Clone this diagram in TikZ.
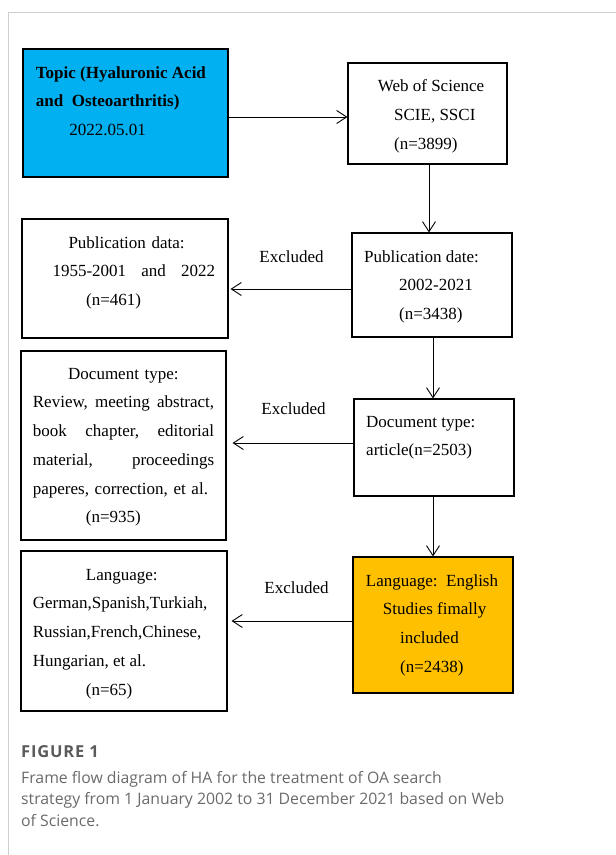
\documentclass[tikz,border=0pt]{standalone}
\usepackage{fontspec}
\setmainfont{Liberation Serif}
\newfontfamily\capfont{Open Sans}
\usetikzlibrary{arrows.meta}

\definecolor{topicblue}{HTML}{00B0F0}
\definecolor{langorange}{HTML}{FFC000}
\definecolor{framegray}{HTML}{CFCFCF}
\definecolor{capgray}{HTML}{6A6A6A}

\tikzset{
  box/.style = {draw, line width=1.1pt, inner sep=0pt},
  txt/.style = {align=left, inner sep=0pt, anchor=north west,
                font=\fontsize{17}{28.75}\selectfont},
  arr/.style = {-{Straight Barb[length=10pt, width=13pt]}, line width=0.9pt},
}
\newcommand{\fl}{\rule{0pt}{12pt}}

\begin{document}
\begin{tikzpicture}[x=1pt, y=-1pt]
					\useasboundingbox (0,0) rectangle (616,855);

					% page frame
					\draw[framegray, line width=1pt] (8,855) -- (8,12) -- (616,12);

					% boxes
					\begin{scope}
						\node[box, fill=topicblue, minimum width=205, minimum height=128] (topic) at (125.5,113) {};
						\node[box, minimum width=159, minimum height=101] (wos) at (427.5,113.5) {};
						\node[box, minimum width=206, minimum height=119] (pubdata) at (125,278.5) {};
						\node[box, minimum width=160, minimum height=104] (pubdate) at (432,285) {};
						\node[box, minimum width=205, minimum height=189] (doctypeL) at (123.5,445.5) {};
						\node[box, minimum width=160, minimum height=97] (doctypeR) at (434,447.5) {};
						\node[box, minimum width=206, minimum height=160] (langL) at (124,631) {};
						\node[box, fill=langorange, minimum width=160, minimum height=136] (langR) at (433,625) {};
					\end{scope}

					% box texts
					\begin{scope}
						\node[txt] (topictxt) at (35.7,66) {\fl\textbf{Topic (Hyaluronic Acid}\\
							\textbf{and\ \ Osteoarthritis)}\\ \hspace*{33.6pt}2022.05.01};
						\node[txt] (wostxt) at (377.7,79.7) {\fl Web of Science\\
							\hspace*{16.3pt}SCIE, SSCI\\ \hspace*{16.3pt}(n=3899)};
						\node[txt, text width=162.7pt] (pubdatatxt) at (52.3,236) {\fl\hspace*{16pt}Publication data:\\
							1955-2001\hfill and\hfill 2022\\ \hspace*{33.7pt}(n=461)};
						\node[txt] (pubdatetxt) at (364,250) {\fl Publication date:\\
							\hspace*{35pt}2002-2021\\ \hspace*{35pt}(n=3438)};
						\node[txt, text width=181.3pt] (doctypeLtxt) at (32.7,367) {\fl\hspace*{35.3pt}Document type:\\
							Review,\hfill meeting\hfill abstract,\\
							book\hfill chapter,\hfill editorial\\
							material,\hfill proceedings\\
							paperes, correction, et al.\\
							\hspace*{53pt}(n=935)};
						\node[txt] (doctypeRtxt) at (366,415) {\fl Document type:\\ article(n=2503)};
						\node[txt] (langLtxt) at (32.7,568) {\fl\hspace*{53pt}Language:\\
							German,Spanish,Turkiah,\\ Russian,French,Chinese,\\
							Hungarian, et al.\\ \hspace*{53pt}(n=65)};
						\node[txt] (langRtxt) at (365.7,574) {\fl Language:\ \ English\\
							\hspace*{17pt}Studies fimally\\ \hspace*{34.3pt}included\\
							\hspace*{34.3pt}(n=2438)};
					\end{scope}

					% connectors
					\begin{scope}[arr]
						\draw (topic.east |- 0,117) -- (wos.west |- 0,117);
						\draw (wos.south -| 429,0) -- (pubdate.north -| 429,0);
						\draw (pubdate.west |- 0,289) -- ([xshift=2pt]pubdata.east |- 0,289)
							node[txt, anchor=base west, midway, xshift=-32pt, yshift=27pt] (excl1) {Excluded};
						\draw (pubdate.south -| 433,0) -- (doctypeR.north -| 433,0);
						\draw (doctypeR.west |- 0,443) -- ([xshift=6pt]doctypeL.east |- 0,443)
							node[txt, anchor=base west, midway, xshift=-32pt, yshift=29pt] (excl2) {Excluded};
						\draw (doctypeR.south -| 433,0) -- (langR.north -| 433,0);
						\draw (langR.west |- 0,621) -- ([xshift=4pt]langL.east |- 0,621)
							node[txt, anchor=base west, midway, xshift=-28pt, yshift=28pt] (excl3) {Excluded};
					\end{scope}

					% caption
					\node[anchor=base west, inner sep=0pt, text=capgray!85!black,
						font=\capfont\bfseries\fontsize{16.5}{20}\selectfont\addfontfeatures{LetterSpace=5}] (figlabel) at (21,757) {FIGURE 1};
					\node[anchor=north west, inner sep=0pt, align=left, text=capgray,
						font=\capfont\fontsize{15.8}{21.5}\selectfont] (figcap) at (21,771) {\rule{0pt}{12pt}Frame flow diagram of HA for the treatment of OA search\\
						strategy from 1 January 2002 to 31 December 2021 based on Web\\ of Science.};
				\end{tikzpicture}
\end{document}
